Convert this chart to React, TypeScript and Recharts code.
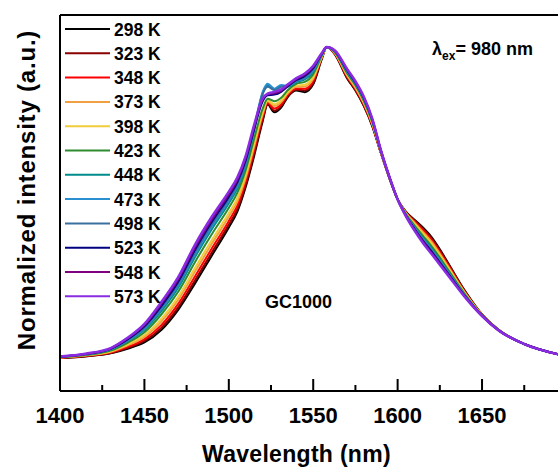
import { LineChart, Line, XAxis, YAxis, Legend } from 'recharts'

const wavelengths = [
  1400, 1415, 1430, 1440, 1450, 1460, 1470, 1480, 1490, 1500, 1505, 1510, 1515, 1520,
  1523, 1527, 1531, 1535, 1540, 1545, 1550, 1555, 1558, 1563, 1570, 1575, 1580, 1585,
  1590, 1595, 1600, 1605, 1610, 1615, 1620, 1625, 1630, 1640, 1650, 1660, 1675, 1695,
]

const s298 = [0.000,0.005,0.015,0.030,0.050,0.090,0.155,0.240,0.330,0.420,0.470,0.550,0.650,0.760,0.815,0.790,0.805,0.840,0.860,0.855,0.880,0.960,1.000,0.975,0.900,0.860,0.810,0.745,0.660,0.580,0.510,0.470,0.445,0.420,0.390,0.350,0.305,0.215,0.140,0.090,0.045,0.012]
const s323 = [0.000,0.006,0.016,0.033,0.055,0.097,0.163,0.250,0.340,0.429,0.479,0.558,0.658,0.766,0.818,0.795,0.810,0.843,0.863,0.860,0.885,0.962,1.000,0.976,0.902,0.862,0.812,0.747,0.661,0.580,0.510,0.469,0.442,0.416,0.386,0.346,0.302,0.213,0.140,0.090,0.045,0.012]
const s348 = [0.001,0.007,0.018,0.036,0.061,0.106,0.174,0.263,0.353,0.441,0.490,0.568,0.668,0.774,0.821,0.802,0.816,0.847,0.867,0.866,0.891,0.964,1.000,0.977,0.905,0.865,0.815,0.750,0.662,0.581,0.510,0.467,0.439,0.411,0.380,0.341,0.298,0.211,0.139,0.090,0.045,0.012]
const s373 = [0.002,0.008,0.020,0.041,0.068,0.117,0.187,0.278,0.368,0.455,0.503,0.580,0.680,0.783,0.826,0.810,0.823,0.852,0.872,0.873,0.898,0.966,1.000,0.979,0.909,0.869,0.819,0.753,0.663,0.582,0.510,0.466,0.435,0.405,0.374,0.335,0.293,0.209,0.139,0.089,0.045,0.012]
const s398 = [0.002,0.009,0.022,0.044,0.074,0.126,0.197,0.290,0.380,0.466,0.514,0.590,0.690,0.790,0.829,0.816,0.829,0.856,0.876,0.879,0.904,0.968,1.000,0.980,0.912,0.872,0.822,0.755,0.664,0.582,0.510,0.464,0.431,0.400,0.368,0.330,0.289,0.207,0.138,0.089,0.045,0.012]
const s423 = [0.003,0.010,0.024,0.049,0.083,0.140,0.213,0.309,0.399,0.483,0.531,0.605,0.705,0.801,0.834,0.826,0.837,0.862,0.882,0.888,0.913,0.971,1.000,0.982,0.917,0.877,0.827,0.759,0.666,0.583,0.510,0.462,0.426,0.393,0.360,0.323,0.283,0.204,0.137,0.089,0.045,0.012]
const s448 = [0.003,0.011,0.027,0.054,0.091,0.151,0.226,0.325,0.415,0.498,0.545,0.618,0.730,0.850,0.878,0.862,0.874,0.872,0.887,0.896,0.921,0.974,1.000,0.984,0.920,0.880,0.830,0.762,0.667,0.583,0.510,0.460,0.421,0.386,0.353,0.316,0.278,0.201,0.137,0.089,0.045,0.012]
const s473 = [0.004,0.012,0.028,0.056,0.095,0.158,0.234,0.334,0.424,0.506,0.553,0.625,0.740,0.855,0.882,0.866,0.878,0.875,0.890,0.900,0.925,0.975,1.000,0.985,0.923,0.883,0.833,0.764,0.668,0.584,0.510,0.459,0.419,0.383,0.349,0.313,0.275,0.200,0.136,0.089,0.045,0.012]
const s498 = [0.004,0.012,0.029,0.058,0.098,0.162,0.239,0.340,0.430,0.512,0.558,0.630,0.738,0.848,0.872,0.862,0.872,0.876,0.892,0.903,0.928,0.976,1.000,0.985,0.924,0.884,0.834,0.765,0.668,0.584,0.510,0.458,0.417,0.380,0.346,0.310,0.273,0.199,0.136,0.088,0.045,0.012]
const s523 = [0.004,0.013,0.030,0.060,0.102,0.167,0.245,0.348,0.438,0.519,0.565,0.636,0.736,0.825,0.845,0.847,0.856,0.874,0.894,0.907,0.932,0.977,1.000,0.986,0.926,0.886,0.836,0.767,0.669,0.584,0.510,0.457,0.415,0.377,0.343,0.307,0.271,0.198,0.136,0.088,0.045,0.012]
const s548 = [0.005,0.013,0.031,0.063,0.106,0.174,0.253,0.356,0.446,0.527,0.572,0.643,0.743,0.830,0.848,0.851,0.860,0.877,0.897,0.911,0.936,0.979,1.000,0.987,0.928,0.888,0.838,0.768,0.669,0.585,0.510,0.456,0.412,0.374,0.339,0.304,0.268,0.196,0.135,0.088,0.045,0.012]
const s573 = [0.005,0.014,0.032,0.065,0.110,0.180,0.260,0.365,0.455,0.535,0.580,0.650,0.750,0.835,0.850,0.856,0.864,0.880,0.900,0.915,0.940,0.980,1.000,0.988,0.930,0.890,0.840,0.770,0.670,0.585,0.510,0.455,0.410,0.370,0.335,0.300,0.265,0.195,0.135,0.088,0.045,0.012]

const temps = ['298 K', '323 K', '348 K', '373 K', '398 K', '423 K', '448 K', '473 K', '498 K', '523 K', '548 K', '573 K']
const colors = ['#000000', '#8b0000', '#ff0000', '#f0a040', '#f2cc3a', '#2e8b2e', '#008b8b', '#2a8fd0', '#3a70a0', '#000080', '#800080', '#8a2be2']
const series = [s298, s323, s348, s373, s398, s423, s448, s473, s498, s523, s548, s573]

const xTicks = [1400, 1425, 1450, 1475, 1500, 1525, 1550, 1575, 1600, 1625, 1650, 1675]

const data = wavelengths.map((wl, i) => {
  const row: Record<string, number> = { wl }
  series.forEach((s, k) => {
    row['k' + k] = s[i]
  })
  return row
})

const font = 'Arial, "Liberation Sans", sans-serif'

function XTick(props: any) {
  const { x, y, payload } = props
  const major = payload.value % 50 === 0
  return (
    <g>
      <line x1={x} y1={y} x2={x} y2={y - (major ? 12 : 6)} stroke="#000" strokeWidth={2} />
      {major && (
        <text x={x} y={y + 32} textAnchor="middle" fontSize={22} fontWeight="bold" fontFamily={font} fill="#000">
          {payload.value}
        </text>
      )}
    </g>
  )
}

function LegendBox() {
  return (
    <svg width={110} height={300} style={{ display: 'block' }}>
      {temps.map((t, i) => (
        <g key={t}>
          <line x1={5} x2={50} y1={14 + i * 24.3} y2={14 + i * 24.3} stroke={colors[i]} strokeWidth={2} />
          <text x={54} y={14 + i * 24.3 + 6.5} fontSize={17.5} fontWeight="bold" fontFamily={font} fill="#000">
            {t}
          </text>
        </g>
      ))}
    </svg>
  )
}

export default function App() {
  return (
    <div style={{ position: 'absolute', left: 0, top: 0, width: 558, height: 468, background: '#fff', fontFamily: font }}>
      <LineChart width={558} height={468} data={data} margin={{ top: 14, right: 0, left: 59, bottom: 47 }}>
        <XAxis
          dataKey="wl"
          type="number"
          domain={[1400, 1695]}
          ticks={xTicks}
          interval={0}
          height={30}
          tickSize={0}
          tickMargin={0}
          tick={<XTick />}
          axisLine={{ stroke: '#000', strokeWidth: 2 }}
          allowDataOverflow
        />
        <XAxis
          xAxisId="top"
          orientation="top"
          dataKey="wl"
          type="number"
          domain={[1400, 1695]}
          height={1}
          tick={false}
          tickLine={false}
          axisLine={{ stroke: '#000', strokeWidth: 2 }}
          allowDataOverflow
        />
        <YAxis
          type="number"
          domain={[-0.106, 1.103]}
          width={1}
          tick={false}
          tickLine={false}
          axisLine={{ stroke: '#000', strokeWidth: 2 }}
          allowDataOverflow
        />
        <Legend
          layout="vertical"
          align="center"
          verticalAlign="middle"
          wrapperStyle={{ left: 60, top: 15, width: 110, height: 300 }}
          content={() => <LegendBox />}
        />
        {temps.map((t, k) => (
          <Line
            key={t}
            dataKey={'k' + k}
            name={t}
            type="monotone"
            stroke={colors[k]}
            strokeWidth={k === 11 ? 2.5 : 2}
            dot={false}
            isAnimationActive={false}
          />
        ))}
      </LineChart>
      <div style={{ position: 'absolute', left: 432, top: 39, fontSize: 18, fontWeight: 'bold', lineHeight: '20px', whiteSpace: 'nowrap' }}>
        λ<sub style={{ fontSize: 12 }}>ex</sub>= 980 nm
      </div>
      <div style={{ position: 'absolute', left: 265, top: 292, fontSize: 18, fontWeight: 'bold', lineHeight: '20px' }}>GC1000</div>
      <div style={{ position: 'absolute', left: 202, top: 441, fontSize: 23, fontWeight: 'bold', lineHeight: '26px', letterSpacing: 0.3, whiteSpace: 'nowrap' }}>
        Wavelength (nm)
      </div>
      <div
        style={{
          position: 'absolute',
          left: 27,
          top: 190,
          fontSize: 24,
          fontWeight: 'bold',
          lineHeight: '26px',
          letterSpacing: 0.8,
          whiteSpace: 'nowrap',
          transform: 'translate(-50%, -50%) rotate(-90deg)',
        }}
      >
        Normalized intensity (a.u.)
      </div>
    </div>
  )
}
